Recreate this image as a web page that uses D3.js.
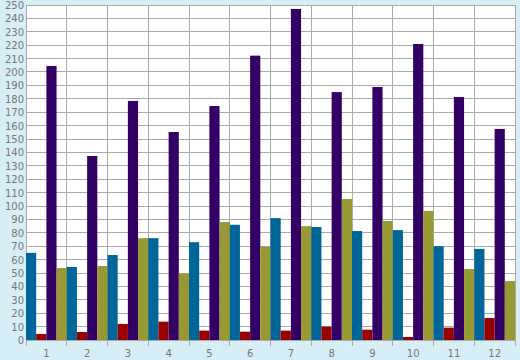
<!DOCTYPE html>
<html>
<head>
<meta charset="utf-8">
<script src="https://cdn.jsdelivr.net/npm/d3@7"></script>
<style>
html,body{margin:0;padding:0;background:#d8eef6;}
svg{display:block;}
</style>
</head>
<body>
<svg id="chart" width="520" height="360"></svg>
<script>
const categories = ["1","2","3","4","5","6","7","8","9","10","11","12"];
const seriesNames = ["blue","red","purple","olive"];
const blueValues   = [65, 54.5, 63.4, 76, 73, 86, 91, 84.3, 81.3, 82, 70, 68];
const redValues    = [4.5, 6, 12, 13.7, 7, 6.2, 7, 10, 7.7, 2.2, 9.2, 16.4];
const purpleValues = [204.5, 137.3, 178.4, 155.2, 174.6, 212.2, 247, 185, 188.8, 220.9, 181.3, 157.5];
const oliveValues  = [53.7, 55.2, 76, 49.5, 88, 69.6, 85, 105.2, 88.8, 96.3, 53, 44];
const seriesColors = ["#006699", "#990000", "#330066", "#999933"];
const yTicks = d3.range(0, 251, 10);

const svg = d3.select("#chart");
const W = 520, H = 360;
const margin = {left: 26, right: 5, top: 5, bottom: 20};
const x0 = margin.left, x1 = W - margin.right;
const yBottom = H - margin.bottom, yTop = margin.top;

svg.append("rect").attr("width", W).attr("height", H).attr("fill", "#d8eef6");

const x = d3.scaleBand().domain(categories).range([x0, x1]).padding(0);
const xs = d3.scaleBand().domain(seriesNames).range([0, x.bandwidth()]).padding(0);
const y = d3.scaleLinear().domain([0, 250]).range([yBottom, yTop]);

const crisp = v => Math.floor(v) + 0.5;

svg.append("rect").attr("x", x0).attr("y", yTop).attr("width", x1 - x0).attr("height", yBottom - yTop).attr("fill", "#ffffff");

const grid = svg.append("g").attr("stroke", "#aaaaaa").attr("stroke-width", 1).attr("shape-rendering", "crispEdges");
grid.selectAll("line.h").data(yTicks).join("line").attr("class", "h")
  .attr("x1", x0).attr("x2", x1).attr("y1", d => crisp(y(d))).attr("y2", d => crisp(y(d)));
const bounds = categories.map(c => x(c)).concat([x1]);
grid.selectAll("line.v").data(bounds).join("line").attr("class", "v")
  .attr("x1", d => crisp(d)).attr("x2", d => crisp(d)).attr("y1", yTop).attr("y2", yBottom + 6);

const data = [blueValues, redValues, purpleValues, oliveValues];
const rows = categories.map((c, i) => ({cat: c, vals: seriesNames.map((s, j) => ({s, j, v: data[j][i]}))}));

const g = svg.append("g");
g.selectAll("g.cat").data(rows).join("g").attr("class", "cat")
  .attr("transform", d => `translate(${x(d.cat)},0)`)
  .selectAll("rect").data(d => d.vals).join("rect")
  .attr("x", d => xs(d.s)).attr("width", xs.bandwidth())
  .attr("y", d => y(d.v)).attr("height", d => yBottom - y(d.v))
  .attr("fill", d => seriesColors[d.j]);

const yAxis = d3.axisLeft(y).tickValues(yTicks).tickSize(0).tickPadding(2);
const ya = svg.append("g").attr("transform", `translate(${x0},0)`).call(yAxis);
ya.select(".domain").remove();
ya.selectAll("text").attr("fill", "#777777").style("font-family", "DejaVu Sans, Verdana, sans-serif").style("font-size", "10px").attr("dy", "0.35em");

const xAxis = d3.axisBottom(x).tickSize(0).tickPadding(10);
const xa = svg.append("g").attr("transform", `translate(0,${yBottom})`).call(xAxis);
xa.select(".domain").remove();
xa.selectAll("text").attr("fill", "#777777").style("font-family", "DejaVu Sans, Verdana, sans-serif").style("font-size", "10px");
</script>
</body>
</html>
